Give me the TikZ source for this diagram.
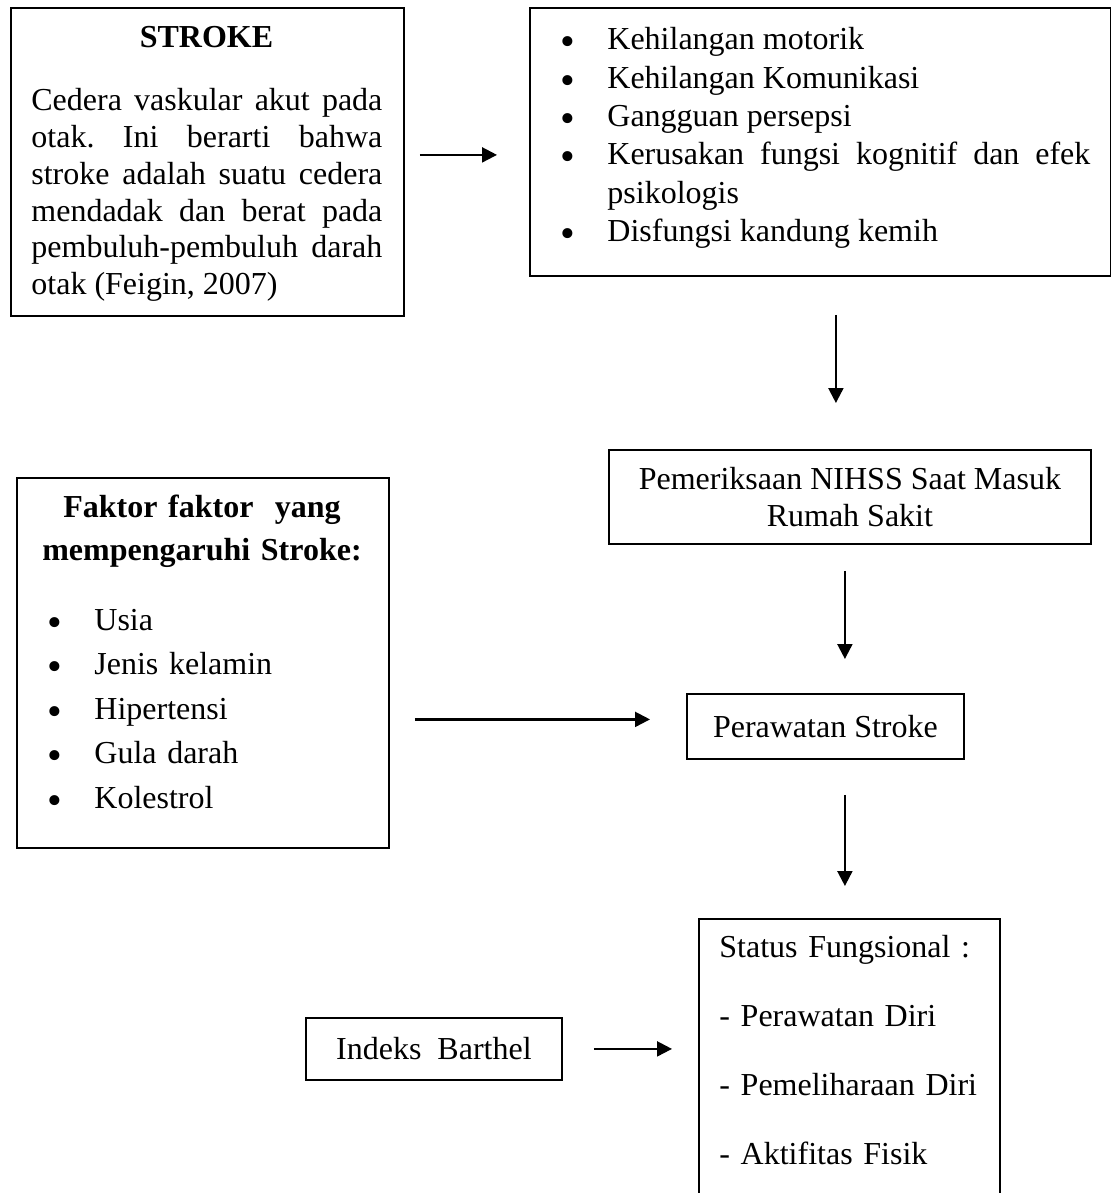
\documentclass[tikz,border=0pt]{standalone}
\usepackage{fontspec}
\setmainfont{Liberation Serif}
\usetikzlibrary{arrows.meta,positioning}
\frenchspacing
\hyphenpenalty=10000
\tolerance=10000
\hbadness=10000
\newcommand{\butir}[1]{\noindent\llap{\raisebox{-3pt}{\fontsize{21}{21}\selectfont\textbullet}\hspace{16pt}}#1\par}

\begin{document}
\begin{tikzpicture}[x=0.5pt,y=-0.5pt,
  box/.style={draw,line width=0.9pt,inner sep=0pt,anchor=north west},
  txt/.style={inner sep=0pt,font=\fontsize{16}{#1}\selectfont},
  flow/.style={-{Triangle[length=7.5pt,width=7.5pt]},line width=1.1pt}]
  \useasboundingbox (0,0) rectangle (1111,1193);
  \clip (0,0) rectangle (1111,1193);
  % Stroke definition
  \node[box,minimum width=196.5pt,minimum height=154pt] (stroke) at (10,7) {};
  \node[txt=19,anchor=base] (stroketitle) at (206.5,48) {\bfseries STROKE};
  \node[txt=18.35,anchor=base west,text width=175.5pt,align=justify] (strokebody) at (31,111)
    {Cedera vaskular akut pada\linebreak otak. Ini berarti bahwa\linebreak stroke adalah suatu cedera\linebreak
     mendadak dan berat pada\linebreak pembuluh-pembuluh darah\linebreak otak (Feigin, 2007)};
  % Symptoms
  \node[box,minimum width=290.5pt,minimum height=134pt] (gejala) at (529,7) {};
  \node[txt=19.15,anchor=base west,text width=241.5pt,align=justify] (gejalalist) at (607,50)
    {\butir{Kehilangan motorik}\butir{Kehilangan Komunikasi}\butir{Gangguan persepsi}
     \butir{Kerusakan fungsi kognitif dan efek psikologis}\butir{Disfungsi kandung kemih}};
  % NIHSS on admission
  \node[box,txt=18.5,align=center,minimum width=241pt,minimum height=47pt] (nihss) at (608,449)
    {Pemeriksaan NIHSS Saat Masuk\\Rumah Sakit};
  % Risk factors
  \node[box,minimum width=186pt,minimum height=185pt] (faktor) at (16,477) {};
  \node[txt=21.5,anchor=base,text width=180pt,align=center] (faktortitle) at (202,517)
    {\bfseries Faktor faktor \ yang\\mempengaruhi Stroke:};
  \node[txt=22.25,anchor=base west,text width=140pt,align=left] (faktorlist) at (94,630)
    {\butir{Usia}\butir{Jenis kelamin}\butir{Hipertensi}\butir{Gula darah}\butir{Kolestrol}};
  % Care and outcome
  \node[box,txt=19,minimum width=138.5pt,minimum height=32.5pt] (rawat) at (686,693) {Perawatan Stroke};
  \node[box,txt=19,minimum width=128pt,minimum height=31pt] (barthel) at (305,1017) {Indeks \ Barthel};
  \node[box,minimum width=150.5pt,minimum height=160pt] (status) at (698,918) {};
  \node[txt=34.5,anchor=base west,text width=130pt,align=left] (statuslist) at (719,957)
    {Status Fungsional :\\- Perawatan Diri\\- Pemeliharaan Diri\\- Aktifitas Fisik};
  % Arrows
  \draw[flow,shorten <=7.5pt,shorten >=16pt] ([yshift=3.5pt]stroke.east) -- ([yshift=3.5pt]stroke.east -| gejala.west);
  \draw[flow,shorten <=19pt,shorten >=23pt] ([xshift=7.75pt]gejala.south) -- ([xshift=7.75pt]gejala.south |- nihss.north);
  \draw[flow,shorten <=13pt,shorten >=17pt] ([xshift=-2.5pt]nihss.south) -- ([xshift=-2.5pt]nihss.south |- rawat.north);
  \draw[flow,shorten <=12.5pt,shorten >=18pt] ([yshift=3.5pt]rawat.west -| faktor.east) -- ([yshift=3.5pt]rawat.west);
  \draw[flow,shorten <=17.5pt,shorten >=16pt] ([xshift=-2.25pt]status.north |- rawat.south) -- ([xshift=-2.25pt]status.north);
  \draw[flow,shorten <=15.5pt,shorten >=13pt] (barthel.east) -- (barthel.east -| status.west);
\end{tikzpicture}
\end{document}
